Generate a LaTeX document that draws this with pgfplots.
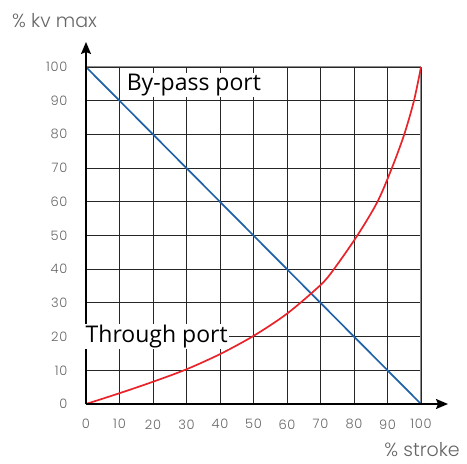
\documentclass[border=0pt]{standalone}
\usepackage{fontspec}
\setmainfont{Poppins}[UprightFont=* Light]
\newfontfamily\labelfont{Open Sans}
\usepackage{pgfplots}
\pgfplotsset{compat=1.18}
\usetikzlibrary{arrows.meta}
\definecolor{tickgray}{HTML}{666666}
\definecolor{curvered}{HTML}{E8232A}
\definecolor{lineblue}{HTML}{1F62A8}
\begin{document}
\begin{tikzpicture}[x=1pt,y=1pt]
\begin{axis}[
    anchor=origin, at={(0,0)},
    scale only axis,
    width=335pt, height=337pt,
    xmin=0, xmax=100, ymin=0, ymax=100,
    xtick={0,10,...,100}, ytick={0,10,...,100},
    major tick length=0pt,
    grid=major,
    major grid style={black!85, line width=0.8pt},
    axis line style={black!45, line width=1pt},
    tick label style={font=\fontsize{13}{15}\selectfont\addfontfeatures{LetterSpace=6}, text=tickgray},
    /pgf/number format/assume math mode=true,
    xticklabel style={yshift=-12pt},
    yticklabel style={xshift=-15pt},
    clip=false,
]
\addplot[lineblue, line width=1.7pt] coordinates {(0,100) (100,0)};
\addplot[curvered, line width=1.7pt, smooth] coordinates {
    (0,0) (10,3.2) (20,6.6) (30,10.3) (40,14.8) (50,20.2) (60,26.8)
    (70,35.3) (74,40) (81,50) (87,60) (91.3,70) (95,80) (97.9,90) (100,100)
};
\draw[black, line width=1.6pt, -{Stealth[length=12pt,width=10pt,inset=2pt]}] (axis cs:0,0) -- ([xshift=27pt]axis cs:100,0);
\draw[black, line width=1.6pt, -{Stealth[length=12pt,width=10pt,inset=2pt]}] (axis cs:0,0) -- ([yshift=25pt]axis cs:0,100);
\node[fill=white, inner sep=1pt, font=\labelfont\fontsize{23}{27}\selectfont] at (axis cs:32.2,94.6) {By-pass port};
\node[fill=white, inner sep=1pt, font=\labelfont\fontsize{23}{27}\selectfont] at (axis cs:21.1,20.0) {Through port};
\end{axis}
\node[anchor=west, inner sep=0pt, text=tickgray, font=\fontsize{19}{22}\selectfont] at (-74,383) {\% kv max};
\node[anchor=base east, inner sep=0pt, text=tickgray, font=\fontsize{19}{22}\selectfont] at (374,-53) {\% stroke};
\pgfresetboundingbox
\path (-86,-60) rectangle (381,404);
\end{tikzpicture}
\end{document}
